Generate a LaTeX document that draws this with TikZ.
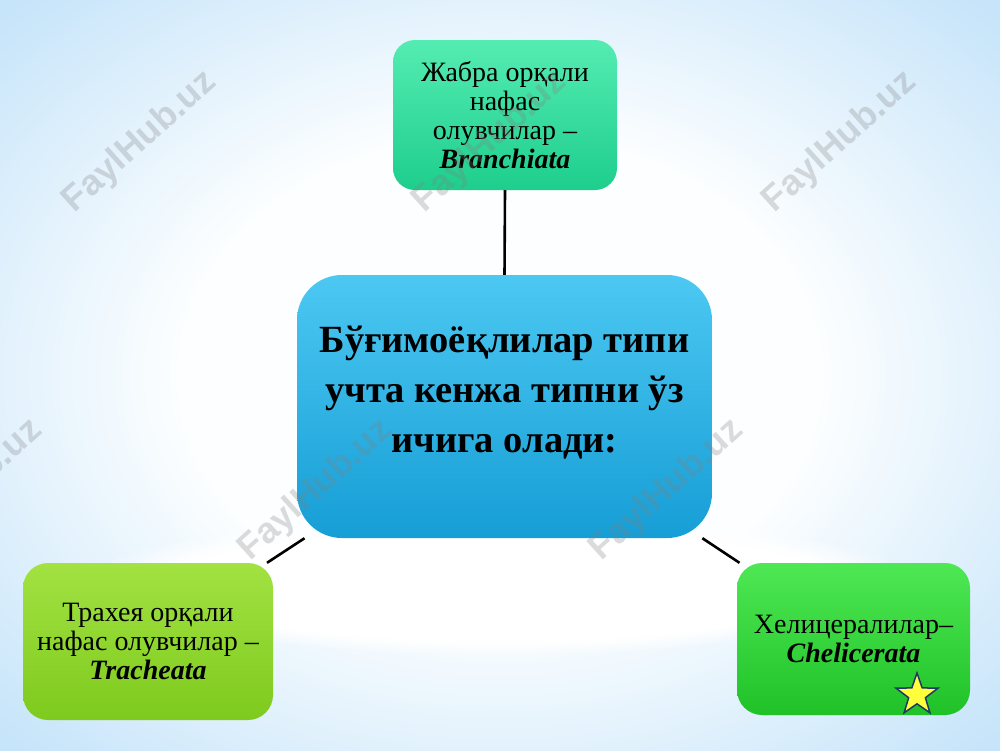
\documentclass[tikz,border=0pt]{standalone}
\usepackage{fontspec}
\setmainfont{Liberation Serif}
\newfontfamily\wmfont{Liberation Sans}
\usetikzlibrary{shapes.geometric,fadings}
\definecolor{bgwhite}{RGB}{252,254,255}
\definecolor{bgmid}{RGB}{200,229,250}
\definecolor{bgedge}{RGB}{166,212,247}
\definecolor{bgcorner}{RGB}{132,196,243}
\definecolor{tealtop}{RGB}{84,236,178}
\definecolor{tealbot}{RGB}{30,206,140}
\definecolor{bluetop}{RGB}{76,200,242}
\definecolor{bluebot}{RGB}{22,158,214}
\definecolor{limetop}{RGB}{162,226,66}
\definecolor{limebot}{RGB}{126,202,30}
\definecolor{greentop}{RGB}{78,232,84}
\definecolor{greenbot}{RGB}{32,194,40}
\definecolor{starline}{RGB}{31,56,100}
\definecolor{staryellow}{RGB}{255,255,60}
\pgfdeclareradialshading{bgshade}{\pgfpoint{0bp}{0bp}}{color(0bp)=(bgwhite); color(16bp)=(bgwhite); color(34bp)=(bgmid); color(50bp)=(bgedge); color(72bp)=(bgcorner)}
\begin{document}
\begin{tikzpicture}[x=1pt,y=-1pt,
  boxstyle/.style={rectangle, inner sep=0pt, align=center, text=black},
  smalltext/.style={font=\fontsize{28}{29}\selectfont},
  conn/.style={draw=black, line width=2.6pt},
  wm/.style={font=\wmfont\bfseries\fontsize{36}{36}\selectfont, text=gray, opacity=0.28, rotate=42}]
\useasboundingbox (0,0) rectangle (1000,750);
\shade[shading=bgshade] (0,0) rectangle (1000,750);
\fill[white, path fading=circle with fuzzy edge 20 percent] (500,585) ellipse [x radius=420, y radius=70];

\node[boxstyle, smalltext, minimum width=224pt, minimum height=150pt, rounded corners=22pt,
  top color=tealtop, bottom color=tealbot] (topbox) at (505,115)
  {Жабра орқали\\нафас\\олувчилар –\\\textbf{\textit{Branchiata}}};

\node[boxstyle, minimum width=415pt, minimum height=263pt, rounded corners=45pt,
  top color=bluetop, bottom color=bluebot] (ctr) at (504.5,406.5) {};
\node[boxstyle, font=\fontsize{38.5}{50}\selectfont\bfseries] (ctrtext) at (504.5,393)
  {Бўғимоёқлилар типи\\учта кенжа типни ўз\\ичига олади:};

\node[boxstyle, smalltext, minimum width=250pt, minimum height=157pt, rounded corners=25pt,
  top color=limetop, bottom color=limebot] (ll) at (148,641.5)
  {Трахея орқали\\нафас олувчилар –\\\textbf{\textit{Tracheata}}};

\node[boxstyle, smalltext, minimum width=233pt, minimum height=152pt, rounded corners=25pt,
  top color=greentop, bottom color=greenbot] (rr) at (853.5,639)
  {Хелицералилар–\\\textbf{\textit{Chelicerata}}};

\node[star, star points=5, star point ratio=2.5, minimum size=44pt, inner sep=0pt,
  fill=staryellow, draw=starline, line width=1.5pt] (star) at (917,695) {};

\draw[conn] (topbox.south) -- (ctr.north);
\draw[conn] (ctr) -- (ll);
\draw[conn] (ctr) -- (rr);

\node[wm] (wm1) at (140,142) {FaylHub.uz};
\node[wm] (wm2) at (490,142) {FaylHub.uz};
\node[wm] (wm3) at (840,142) {FaylHub.uz};
\node[wm] (wm4) at (-34,490) {FaylHub.uz};
\node[wm] (wm5) at (316,490) {FaylHub.uz};
\node[wm] (wm6) at (667,490) {FaylHub.uz};
\end{tikzpicture}
\end{document}
